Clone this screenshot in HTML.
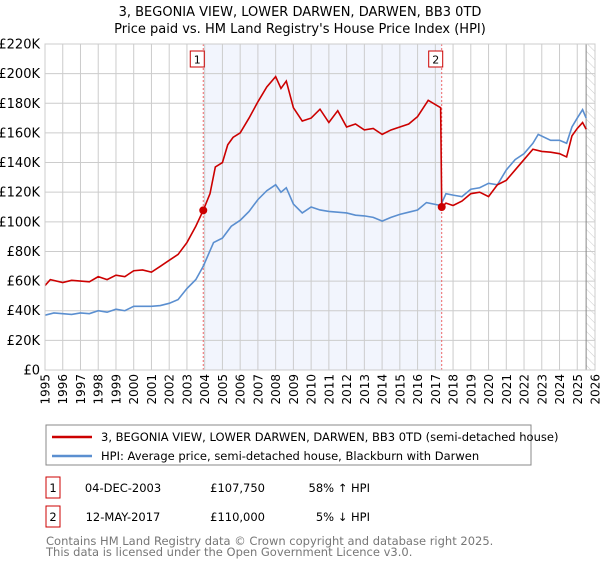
<!DOCTYPE html>
<html><head><meta charset="utf-8">
<style>
body{margin:0;background:#fff;font-family:"Liberation Sans","DejaVu Sans",sans-serif;}
svg text{font-family:"DejaVu Sans","Liberation Sans",sans-serif;}
</style></head>
<body>
<svg id="chart" width="600" height="560" viewBox="0 0 600 560" xmlns="http://www.w3.org/2000/svg">
<defs>
<pattern id="hatch" width="6" height="6" patternUnits="userSpaceOnUse" patternTransform="rotate(-45)">
<line x1="0" y1="0" x2="0" y2="6" stroke="#ccc" stroke-width="1"/>
</pattern>
</defs>
<text x="300" y="16" text-anchor="middle" font-size="13" fill="#000">3, BEGONIA VIEW, LOWER DARWEN, DARWEN, BB3 0TD</text>
<text x="300" y="33" text-anchor="middle" font-size="13" fill="#000">Price paid vs. HM Land Registry's House Price Index (HPI)</text>
<g id="plot"></g>
<g>
<rect x="46" y="425" width="485" height="40" fill="#fff" stroke="#888"/>
<line x1="52" y1="437" x2="92" y2="437" stroke="#cc0000" stroke-width="2.5"/>
<text x="101" y="441" font-size="11.5">3, BEGONIA VIEW, LOWER DARWEN, DARWEN, BB3 0TD (semi-detached house)</text>
<line x1="52" y1="456" x2="92" y2="456" stroke="#5b8fd0" stroke-width="2.5"/>
<text x="101" y="460" font-size="11.5">HPI: Average price, semi-detached house, Blackburn with Darwen</text>
</g>
<g>
<rect x="46" y="477" width="14" height="21" fill="#fff" stroke="#cc0000"/>
<text x="53" y="492" text-anchor="middle" font-size="11.5">1</text>
<text x="123" y="492" text-anchor="middle" font-size="11.5">04-DEC-2003</text>
<text x="265" y="492" text-anchor="end" font-size="11.5">£107,750</text>
<text x="370" y="492" text-anchor="end" font-size="11.5">58% ↑ HPI</text>
<rect x="46" y="506" width="14" height="21" fill="#fff" stroke="#cc0000"/>
<text x="53" y="521" text-anchor="middle" font-size="11.5">2</text>
<text x="123" y="521" text-anchor="middle" font-size="11.5">12-MAY-2017</text>
<text x="265" y="521" text-anchor="end" font-size="11.5">£110,000</text>
<text x="370" y="521" text-anchor="end" font-size="11.5">5% ↓ HPI</text>
</g>
<text x="46" y="545" font-size="11.5" fill="#777">Contains HM Land Registry data © Crown copyright and database right 2025.</text>
<text x="46" y="556" font-size="11.5" fill="#777">This data is licensed under the Open Government Licence v3.0.</text>
</svg>
<script>
const yTicks=[0,20000,40000,60000,80000,100000,120000,140000,160000,180000,200000,220000];
const yTickLabels=["£0","£20K","£40K","£60K","£80K","£100K","£120K","£140K","£160K","£180K","£200K","£220K"];
const xYears=[1995,1996,1997,1998,1999,2000,2001,2002,2003,2004,2005,2006,2007,2008,2009,2010,2011,2012,2013,2014,2015,2016,2017,2018,2019,2020,2021,2022,2023,2024,2025,2026];
const hpiDates=[1995,1995.5,1996,1996.5,1997,1997.5,1998,1998.5,1999,1999.5,2000,2000.5,2001,2001.5,2002,2002.5,2003,2003.5,2003.92,2004.5,2005,2005.5,2006,2006.5,2007,2007.5,2008,2008.3,2008.6,2009,2009.5,2010,2010.5,2011,2011.5,2012,2012.5,2013,2013.5,2014,2014.5,2015,2015.5,2016,2016.5,2017.3,2017.6,2018,2018.5,2019,2019.5,2020,2020.5,2021,2021.5,2022,2022.5,2022.8,2023.5,2024,2024.4,2024.7,2025,2025.3,2025.5];
const hpiValues=[37000,38500,38000,37500,38500,38000,40000,39000,41000,40000,43000,43000,43000,43500,45000,47500,55000,61000,70000,86000,89000,97000,101000,107000,115000,121000,125000,120000,123000,112000,106000,110000,108000,107000,106500,106000,104500,104000,103000,100500,103000,105000,106500,108000,113000,111000,119000,118000,117000,122000,123000,126000,125000,135000,142000,146000,153000,159000,155000,155000,153000,164000,170000,175700,170000];
const priceDates=[1995,1995.3,1996,1996.5,1997,1997.5,1998,1998.5,1999,1999.5,2000,2000.5,2001,2001.5,2002,2002.5,2003,2003.5,2003.92,2004.3,2004.6,2005,2005.3,2005.6,2006,2006.5,2007,2007.5,2008,2008.3,2008.6,2009,2009.5,2010,2010.5,2011,2011.5,2012,2012.5,2013,2013.5,2014,2014.5,2015,2015.5,2016,2016.6,2017.3,2017.36,2017.6,2018,2018.5,2019,2019.5,2020,2020.5,2021,2021.5,2022,2022.5,2023,2023.5,2024,2024.4,2024.7,2025,2025.3,2025.5];
const priceValues=[57000,61000,59000,60500,60000,59500,63000,61000,64000,63000,67000,67500,66000,70000,74000,78000,86000,97000,107750,119000,137000,140000,152000,157000,160000,170000,181000,191000,198000,190000,195000,177000,168000,170000,176000,167000,175000,164000,166000,162000,163000,159000,162000,164000,166000,171000,182000,177000,110000,112600,111000,114000,119000,120000,117000,125000,128000,135000,142000,149000,147500,147000,146000,143800,158000,163000,167000,162500];
const saleDates=[2003.92,2017.36];
const salePrices=[107750,110000];
const saleLabels=["1","2"];

const NS="http://www.w3.org/2000/svg";
const L=45,R=595,T=44,B=370;
const x=d=>L+(d-1995)/(2026-1995)*(R-L);
const y=v=>B-v/220000*(B-T);
const plot=document.getElementById('plot');
function mk(tag,attrs){const e=document.createElementNS(NS,tag);for(const k in attrs)e.setAttribute(k,attrs[k]);plot.appendChild(e);return e;}

const shade=mk('rect',{x:x(saleDates[0]),y:T,width:x(saleDates[1])-x(saleDates[0]),height:B-T,fill:'#f2f5fd'});


const hatch=mk('rect',{x:x(2025.5),y:T,width:R-x(2025.5),height:B-T,fill:'url(#hatch)'});



xYears.forEach(yr=>{
  const g=mk('line',{x1:x(yr),x2:x(yr),y1:T,y2:B,stroke:'#cccccc','stroke-width':1});
  
  
  const t=mk('text',{x:0,y:0,'font-size':12,'text-anchor':'end',transform:`translate(${x(yr)+4.5},${B+4}) rotate(-90)`});
  t.textContent=yr;
  
  
});
yTicks.forEach((v,i)=>{
  const g=mk('line',{x1:L,x2:R,y1:y(v),y2:y(v),stroke:'#cccccc','stroke-width':1});
  
  
  const t=mk('text',{x:40,y:y(v)+4.5,'font-size':13,'text-anchor':'end'});
  t.textContent=yTickLabels[i];
  
  
});
const vl=mk('line',{x1:x(2025.5),x2:x(2025.5),y1:T,y2:B,stroke:'#888','stroke-width':1});



saleDates.forEach((d,i)=>{
  const l=mk('line',{x1:x(d),x2:x(d),y1:T,y2:B,stroke:'#ee6666','stroke-width':1,'stroke-dasharray':'2,2'});
  
  
});

const hp=mk('polyline',{points:hpiDates.map((d,i)=>x(d)+','+y(hpiValues[i])).join(' '),fill:'none',stroke:'#5b8fd0','stroke-width':1.6});


const pp=mk('polyline',{points:priceDates.map((d,i)=>x(d)+','+y(priceValues[i])).join(' '),fill:'none',stroke:'#cc0000','stroke-width':1.6});



saleDates.forEach((d,i)=>{
  const c=mk('circle',{cx:x(d),cy:y(salePrices[i]),r:4,fill:'#cc0000'});
  
  
  const b=mk('rect',{x:x(d)-13,y:51,width:14,height:16,fill:'#fff',stroke:'#cc0000'});
  
  
  const t=mk('text',{x:x(d)-6,y:63.5,'font-size':11,'text-anchor':'middle'});
  t.textContent=saleLabels[i];
  
  
});
const fr=mk('rect',{x:L,y:T,width:R-L,height:B-T,fill:'none',stroke:'#cccccc'});


</script>
</body></html>
